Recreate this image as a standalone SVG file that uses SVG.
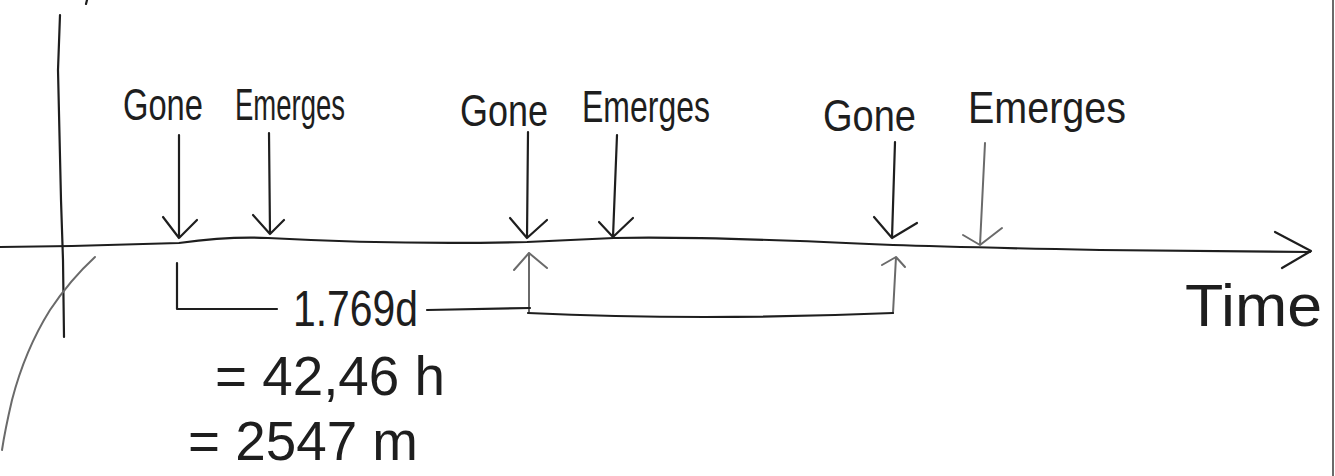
<svg xmlns="http://www.w3.org/2000/svg" width="1335" height="476" viewBox="0 0 1335 476">
<style>
.ln{fill:none;stroke:#1e1e1e;stroke-width:2.2;stroke-linecap:round;stroke-linejoin:round}
.lt{fill:none;stroke:#6a6a6a;stroke-width:2;stroke-linecap:round;stroke-linejoin:round}
.lbl{font-family:"Liberation Sans",Arial,sans-serif;fill:#1e1e1e;font-size:44px}
.big{font-family:"Liberation Sans",Arial,sans-serif;fill:#1e1e1e}
</style>
<rect width="1335" height="476" fill="#ffffff"/>
<g id="frame">
<line x1="1333" y1="0" x2="1333" y2="476" class="lt" stroke-width="1.5"/>
<line x1="87" y1="0" x2="86" y2="4" class="ln"/>
</g>
<g id="axes">
<path class="ln" d="M60 15 L58 70 L61 200 L63 260 L64 337" stroke-width="3"/>
<path class="lt" d="M95 257 Q70 280 50 310 Q25 350 12 400 Q5 430 2 450" stroke-width="1.5"/>
<path class="ln" d="M0 247 Q90 246 179 243 Q230 236 268 238 Q400 245 527 242 Q570 240 614 238 Q700 236 893 245 Q950 247 1100 250 L1310 252"/>
<path class="ln" d="M1275 232 L1311 251 L1282 268"/>
<text id="time" class="big" x="1185" y="326" font-size="60" textLength="137" lengthAdjust="spacingAndGlyphs">Time</text>
</g>
<g id="connectors">
<path class="ln" d="M179 135 L179 238 M163 217 L179 238 L197 220"/>
<path class="ln" d="M269 133 L270 234 M253 215 L270 234 L284 220"/>
<path class="ln" d="M528 132 L527 238 M510 218 L527 238 L547 220"/>
<path class="ln" d="M617 135 L613 237 M599 222 L613 237 L633 218"/>
<path class="ln" d="M895 142 L892 238 M874 217 L892 238 L917 223"/>
<path class="lt" d="M985 143 L980 245 M963 235 L980 245 L1002 228"/>
<path class="lt" d="M529 312 L529 253 M514 270 L529 253 L547 268"/>
<path class="lt" d="M893 313 L896 257 M882 265 L896 257 L905 267"/>
<path class="ln" d="M528 313 Q700 321 893 313"/>
<path class="ln" d="M177 263 L177 309 L277 309"/>
<path class="ln" d="M427 310 L530 308"/>
</g>
<g id="labels">
<text id="gone1" class="lbl" x="123" y="120" textLength="80" lengthAdjust="spacingAndGlyphs">Gone</text>
<text id="emerges1" class="lbl" x="235" y="120" textLength="110" lengthAdjust="spacingAndGlyphs">Emerges</text>
<text id="gone2" class="lbl" x="460" y="126" textLength="88" lengthAdjust="spacingAndGlyphs">Gone</text>
<text id="emerges2" class="lbl" x="582" y="122" textLength="128" lengthAdjust="spacingAndGlyphs">Emerges</text>
<text id="gone3" class="lbl" x="823" y="131" textLength="93" lengthAdjust="spacingAndGlyphs">Gone</text>
<text id="emerges3" class="lbl" x="968" y="123" textLength="158" lengthAdjust="spacingAndGlyphs">Emerges</text>
</g>
<g id="period">
<text class="big" x="293" y="326" font-size="50" textLength="125" lengthAdjust="spacingAndGlyphs">1.769d</text>
<text class="big" x="215" y="395" font-size="56" textLength="230" lengthAdjust="spacingAndGlyphs">= 42,46 h</text>
<text class="big" x="188" y="460" font-size="55" textLength="230" lengthAdjust="spacingAndGlyphs">= 2547 m</text>
</g>
</svg>
